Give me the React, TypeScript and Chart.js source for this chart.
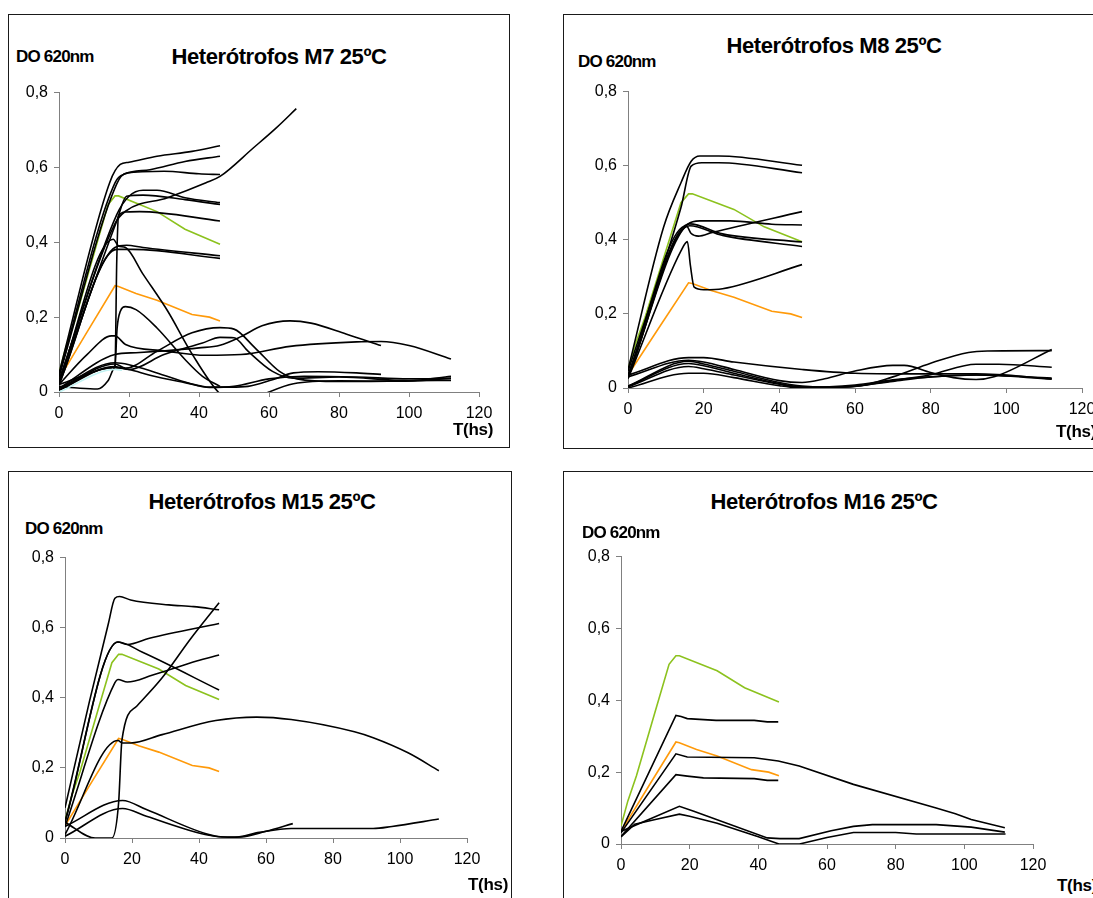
import React, { useEffect, useRef } from "react";
import { Chart, registerables } from "chart.js";

Chart.register(...registerables);

const FONT = '"Liberation Sans", Arial, Helvetica, sans-serif';
const X_MIN = 0;
const X_MAX = 120;
const X_STEP = 20;
const Y_MIN = 0;
const Y_MAX = 0.8;
const Y_STEP = 0.2;

const GREEN = "#8cc21e";
const ORANGE = "#ff9a0a";
const BLACK = "#000000";
const CYAN = "#bff2f2";

// Reference curves (same in every panel)
const REF_GREEN = [[0, 0.05], [2, 0.12], [4.5, 0.19], [10, 0.37], [14, 0.5], [16, 0.524], [17, 0.524], [28, 0.482], [36, 0.435], [46, 0.395]];
const REF_ORANGE = [[0, 0.035], [8, 0.16], [16, 0.284], [17, 0.282], [22, 0.263], [28, 0.245], [38, 0.207], [43, 0.2], [46, 0.19]];

// ---------- M7 ----------
const M7_U1 = [[0, 0.05], [14.5, 0.56], [17.5, 0.608], [20, 0.614], [28, 0.63], [38, 0.643], [46, 0.658]];
const M7_U2 = [[0, 0.045], [16, 0.559], [19, 0.583], [26, 0.594], [36, 0.616], [46, 0.63]];
const M7_U3 = [[0, 0.04], [16.5, 0.556], [19.3, 0.585], [30, 0.59], [40, 0.583], [46, 0.581]];
const M7_U4 = [[0, 0.03], [16, 0.45], [19, 0.483], [31, 0.519], [42, 0.559], [46, 0.576], [55.5, 0.652], [62, 0.705], [67.8, 0.757]];
const M7_U5 = [[0, 0.03], [16.5, 0.474], [20, 0.523], [24, 0.539], [28, 0.539], [36, 0.519], [46, 0.506]];
const M7_U6 = [[0, 0.028], [16.5, 0.457], [19.3, 0.523], [24, 0.526], [36, 0.514], [46, 0.501]];
const M7_U7 = [[0, 0.01], [15, 0.065], [16, 0.07], [16.5, 0.35], [17, 0.47], [19, 0.481], [23, 0.482], [46, 0.457]];
const M7_U8 = [[0, 0.02], [16, 0.386], [19.3, 0.392], [24, 0.386], [46, 0.364]];
const M7_U9 = [[0, 0.02], [16.5, 0.381], [21, 0.381], [46, 0.357]];
const M7_U10 = [[0, 0.027], [15.5, 0.408], [17, 0.39], [19, 0.386], [24, 0.315], [31, 0.217], [38, 0.102], [46, -0.005], [52, -0.035], [60, 0], [67, 0.022], [80, 0.03], [97, 0.029], [112, 0.036]];
const M7_L1 = [[0, 0.02], [15, 0.065], [16, 0.07], [16.6, 0.17], [17.5, 0.215], [19, 0.228], [22, 0.22], [28, 0.171], [36, 0.087], [41, 0.042], [46, 0.015]];
const M7_L2 = [[0, 0.02], [8, 0.1], [15, 0.15], [16, 0.15], [19, 0.127], [30, 0.11], [42, 0.098], [52, 0.1], [66, 0.122], [85, 0.134], [92, 0.135], [100, 0.124], [112, 0.088]];
const M7_L3 = [[0, 0.01], [16, 0.1], [22, 0.105], [30, 0.11], [40, 0.118], [46, 0.125], [52, 0.148], [58, 0.177], [66, 0.19], [72, 0.184], [82, 0.155], [92, 0.124]];
const M7_L4 = [[0, 0.005], [16, 0.075], [19, 0.064], [28, 0.109], [38, 0.158], [46, 0.172], [50, 0.168], [56, 0.118], [63, 0.055], [68, 0.035], [80, 0.028], [100, 0.03], [112, 0.042]];
const M7_L5 = [[0, 0.005], [16, 0.068], [20, 0.06], [30, 0.1], [41, 0.131], [46, 0.146], [50, 0.145], [54, 0.109], [61, 0.055], [67, 0.037], [80, 0.04], [100, 0.03], [112, 0.031]];
const M7_L6 = [[0, 0.01], [16, 0.078], [20, 0.073], [28, 0.051], [37, 0.024], [43, 0.013], [49, 0.013], [54, 0.015], [61, 0.033], [67, 0.051], [74, 0.054], [85, 0.051], [92, 0.047]];
const M7_L7 = [[0, 0.015], [6, 0.01], [11, 0.008], [14, 0.03], [16, 0.065], [20, 0.06], [26, 0.045], [36, 0.025], [43, 0.012], [50, 0.015], [60, 0.035], [70, 0.042], [85, 0.04], [100, 0.035], [112, 0.037]];
const M7_FAINT = [[0, 0], [16, 0.06], [18, 0.058]];

// ---------- M8 ----------
const M8_T1 = [[0, 0.049], [9.4, 0.434], [14, 0.554], [16.7, 0.612], [19, 0.626], [24, 0.626], [46, 0.601]];
const M8_T2 = [[0, 0.045], [14, 0.487], [16.7, 0.599], [19.5, 0.608], [24, 0.608], [46, 0.581]];
const M8_B3 = [[0, 0.036], [15.4, 0.438], [16.7, 0.417], [18.6, 0.41], [22.3, 0.42], [46, 0.476]];
const M8_B4 = [[0, 0.03], [15.8, 0.442], [19, 0.451], [27, 0.451], [38, 0.442], [46, 0.44]];
const M8_B5 = [[0, 0.03], [16.3, 0.443], [25, 0.416], [46, 0.394]];
const M8_B6 = [[0, 0.028], [16.3, 0.438], [25, 0.412], [46, 0.382]];
const M8_B7 = [[0, 0.025], [14, 0.37], [15.7, 0.395], [16.5, 0.33], [17.5, 0.272], [20, 0.265], [25, 0.268], [46, 0.333]];
const M8_L1 = [[0, 0.035], [16, 0.082], [20, 0.082], [28, 0.07], [46, 0.05], [60, 0.04], [80, 0.038], [92, 0.038], [112, 0.025]];
const M8_L2 = [[0, 0.03], [16, 0.075], [20, 0.07], [28, 0.05], [40, 0.02], [46, 0.015], [52, 0.025], [60, 0.046], [70, 0.061], [73, 0.061], [80, 0.042], [86, 0.028], [92, 0.023], [97, 0.031], [112, 0.104]];
const M8_L3 = [[0, 0.005], [16, 0.072], [20, 0.065], [28, 0.045], [40, 0.015], [46, 0.005], [52, 0.002], [60, 0.004], [70, 0.03], [80, 0.067], [90, 0.096], [95, 0.1], [112, 0.101]];
const M8_L4 = [[0, 0.005], [16, 0.066], [20, 0.06], [28, 0.04], [40, 0.012], [46, 0.003], [52, 0.002], [60, 0.005], [70, 0.02], [80, 0.036], [92, 0.064], [98, 0.064], [112, 0.056]];
const M8_L5 = [[0, 0.003], [16, 0.058], [20, 0.052], [28, 0.035], [40, 0.01], [46, 0.002], [60, 0.008], [70, 0.022], [80, 0.03], [92, 0.035], [112, 0.027]];
const M8_L6 = [[0, 0.0], [16, 0.04], [20, 0.04], [28, 0.028], [40, 0.006], [46, 0.0], [60, 0.005], [70, 0.018], [80, 0.03], [92, 0.035], [112, 0.024]];

// ---------- M15 ----------
const M15_A = [[0, 0.086], [7.3, 0.39], [12.9, 0.61], [14.9, 0.684], [16.3, 0.689], [19.6, 0.679], [31, 0.665], [38.4, 0.66], [46, 0.651]];
const M15_B = [[0, 0.048], [15.8, 0.559], [18.6, 0.552], [25.2, 0.57], [46, 0.612]];
const M15_C = [[0, 0.045], [15.8, 0.559], [23.3, 0.529], [46, 0.422]];
const M15_D = [[0, 0.033], [14.9, 0.443], [15.8, 0.452], [18.6, 0.445], [26.2, 0.465], [39.3, 0.505], [46, 0.522]];
const M15_E = [[0, 0.045], [9, 0], [14, 0], [16, 0.1], [17, 0.28], [21.4, 0.376], [29, 0.457], [37.4, 0.567], [46, 0.671]];
const M15_F = [[0, 0.01], [15.8, 0.278], [17.2, 0.271], [19.6, 0.271], [29, 0.295], [45, 0.335], [57.2, 0.345], [67.5, 0.338], [86.4, 0.303], [92, 0.286], [102.4, 0.243], [111.6, 0.192]];
const M15_G = [[0, 0.033], [17.2, 0.107], [24.3, 0.081], [42.1, 0.012], [46.8, 0.003], [52.5, 0.003], [60, 0.019], [68, 0.041]];
const M15_H = [[0, 0.005], [17.2, 0.084], [24.3, 0.062], [43, 0.008], [50.6, 0.002], [58, 0.016], [67.5, 0.027], [92, 0.027], [97.6, 0.033], [111.6, 0.054]];

// ---------- M16 ----------
const M16_A = [[0, 0.035], [16, 0.358], [17.5, 0.355], [19.3, 0.349], [27.7, 0.344], [38.8, 0.344], [42.6, 0.34], [45.8, 0.34]];
const M16_B = [[0, 0.031], [16, 0.251], [19.3, 0.242], [38.8, 0.24], [45.8, 0.231], [51.9, 0.217], [67.7, 0.166], [91.8, 0.1], [97.4, 0.084], [102, 0.068], [111.8, 0.045]];
const M16_C = [[0, 0.021], [16, 0.193], [19.3, 0.189], [24, 0.184], [38.8, 0.182], [42.6, 0.177], [45.8, 0.177]];
const M16_D = [[0, 0.035], [17, 0.105], [21.2, 0.091], [42.6, 0.017], [46.3, 0.015], [51.9, 0.015], [61.2, 0.037], [67.7, 0.049], [73.2, 0.054], [91.8, 0.054], [102, 0.047], [111.8, 0.033]];
const M16_E = [[0, 0.02], [4, 0.055], [10, 0.068], [17, 0.083], [20, 0.077], [28, 0.058], [40, 0.02], [46, 0.0], [52, 0.0], [60, 0.018], [67.7, 0.032], [80, 0.032], [86, 0.028], [112, 0.028]];

type Pt = number[];
type Line = { pts: Pt[]; color: string; smooth: boolean; width?: number };
type PanelDef = {
  title: string;
  border: [number, number, number, number];
  plot: [number, number, number, number];
  titleAt: [number, number];
  doAt: [number, number];
  tAt: [number, number];
  lines: Line[];
};

const blk = (pts: Pt[], smooth = true): Line => ({ pts, color: BLACK, smooth });
const refLines = (): Line[] => [
  { pts: REF_GREEN, color: GREEN, smooth: false, width: 1.6 },
  { pts: REF_ORANGE, color: ORANGE, smooth: false, width: 1.6 },
];

const PANELS: PanelDef[] = [
  {
    title: "Heterótrofos M7 25ºC",
    border: [8, 14, 510, 448],
    plot: [59, 91, 479, 392],
    titleAt: [279, 57],
    doAt: [16, 57],
    tAt: [453, 430],
    lines: [
      { pts: M7_FAINT, color: CYAN, smooth: true, width: 1.5 },
      ...[M7_U1, M7_U2, M7_U3, M7_U4, M7_U5, M7_U6, M7_U7, M7_U8, M7_U9, M7_U10, M7_L1, M7_L2, M7_L3, M7_L4, M7_L5, M7_L6, M7_L7].map((p) => blk(p)),
      ...refLines(),
    ],
  },
  {
    title: "Heterótrofos M8 25ºC",
    border: [563, 14, 1110, 449],
    plot: [628, 90, 1082, 388],
    titleAt: [834, 46],
    doAt: [578, 62],
    tAt: [1056, 432],
    lines: [
      ...[M8_T1, M8_T2, M8_B3, M8_B4, M8_B5, M8_B6, M8_B7, M8_L1, M8_L2, M8_L3, M8_L4, M8_L5, M8_L6].map((p) => blk(p)),
      ...refLines(),
    ],
  },
  {
    title: "Heterótrofos M15 25ºC",
    border: [8, 471, 512, 910],
    plot: [65, 556, 467, 838],
    titleAt: [262, 502],
    doAt: [25, 529],
    tAt: [468, 885],
    lines: [
      ...[M15_A, M15_B, M15_C, M15_D, M15_E, M15_F, M15_G, M15_H].map((p) => blk(p)),
      ...refLines(),
    ],
  },
  {
    title: "Heterótrofos M16 25ºC",
    border: [563, 471, 1110, 910],
    plot: [621, 555, 1033, 844],
    titleAt: [824, 502],
    doAt: [582, 533],
    tAt: [1057, 886],
    lines: [
      ...[M16_A, M16_B, M16_C, M16_D, M16_E].map((p) => blk(p, false)),
      ...refLines(),
    ],
  },
];

const PAD_L = 55;
const PAD_T = 14;
const PAD_R = 24;
const PAD_B = 46;

function fmt(v: number): string {
  const r = Math.round(v * 10) / 10;
  if (r === 0) return "0";
  return r.toFixed(1).replace(".", ",");
}

function Panel({ def }: { def: PanelDef }) {
  const ref = useRef<HTMLCanvasElement | null>(null);
  const [pl, pt, pr, pb] = def.plot;
  const w = pr - pl + PAD_L + PAD_R;
  const h = pb - pt + PAD_T + PAD_B;

  useEffect(() => {
    if (!ref.current) return;
    const chart = new Chart(ref.current, {
      type: "line",
      data: {
        datasets: def.lines.map((ln) => ({
          data: ln.pts.map(([x, y]) => ({ x, y })),
          borderColor: ln.color,
          borderWidth: ln.width ?? 1.6,
          pointRadius: 0,
          fill: false,
          tension: ln.smooth ? 0.4 : 0,
          cubicInterpolationMode: ln.smooth ? "monotone" : "default",
          capBezierPoints: false,
        })),
      },
      options: {
        responsive: false,
        animation: false,
        devicePixelRatio: 1,
        layout: { padding: { top: PAD_T, right: PAD_R, left: 0, bottom: 0 } },
        plugins: { legend: { display: false }, tooltip: { enabled: false }, title: { display: false } },
        scales: {
          x: {
            type: "linear",
            min: X_MIN,
            max: X_MAX,
            afterFit: (s: any) => {
              s.height = PAD_B;
            },
            ticks: {
              stepSize: X_STEP,
              color: "#000",
              font: { family: FONT, size: 16 },
              padding: 7,
              maxRotation: 0,
              autoSkip: false,
            },
            grid: { drawOnChartArea: false, drawTicks: true, tickLength: 5, color: "#808080", lineWidth: 1 },
            border: { display: true, color: "#808080", width: 1 },
          },
          y: {
            type: "linear",
            min: Y_MIN,
            max: Y_MAX,
            afterFit: (s: any) => {
              s.width = PAD_L;
            },
            ticks: {
              stepSize: Y_STEP,
              color: "#000",
              font: { family: FONT, size: 16 },
              padding: 6,
              callback: (v: any) => fmt(Number(v)),
            },
            grid: { drawOnChartArea: false, drawTicks: true, tickLength: 5, color: "#808080", lineWidth: 1 },
            border: { display: true, color: "#808080", width: 1 },
          },
        },
      } as any,
    });
    return () => chart.destroy();
  }, [def]);

  const [bl, bt, br, bb] = def.border;
  return (
    <>
      <div
        style={{
          position: "absolute",
          left: bl,
          top: bt,
          width: br - bl,
          height: bb - bt,
          border: "1.5px solid #1a1a1a",
          boxSizing: "border-box",
        }}
      />
      <canvas
        ref={ref}
        width={w}
        height={h}
        style={{ position: "absolute", left: pl - PAD_L, top: pt - PAD_T, width: w, height: h }}
      />
      <div
        style={{
          position: "absolute",
          left: def.titleAt[0] - 200,
          top: def.titleAt[1] - 14,
          width: 400,
          textAlign: "center",
          font: `bold 22px ${FONT}`,
          letterSpacing: "-0.4px",
          lineHeight: "28px",
          whiteSpace: "nowrap",
          color: "#000",
        }}
      >
        {def.title}
      </div>
      <div
        style={{
          position: "absolute",
          left: def.doAt[0],
          top: def.doAt[1] - 10,
          font: `bold 17px ${FONT}`,
          letterSpacing: "-0.8px",
          lineHeight: "20px",
          whiteSpace: "nowrap",
          color: "#000",
        }}
      >
        DO 620nm
      </div>
      <div
        style={{
          position: "absolute",
          left: def.tAt[0],
          top: def.tAt[1] - 10,
          font: `bold 17px ${FONT}`,
          letterSpacing: "-0.3px",
          lineHeight: "20px",
          whiteSpace: "nowrap",
          color: "#000",
        }}
      >
        T(hs)
      </div>
    </>
  );
}

export default function App() {
  return (
    <div
      style={{
        position: "fixed",
        left: 0,
        top: 0,
        width: 1093,
        height: 898,
        overflow: "hidden",
        background: "#fff",
      }}
    >
      {PANELS.map((p) => (
        <Panel key={p.title} def={p} />
      ))}
    </div>
  );
}
